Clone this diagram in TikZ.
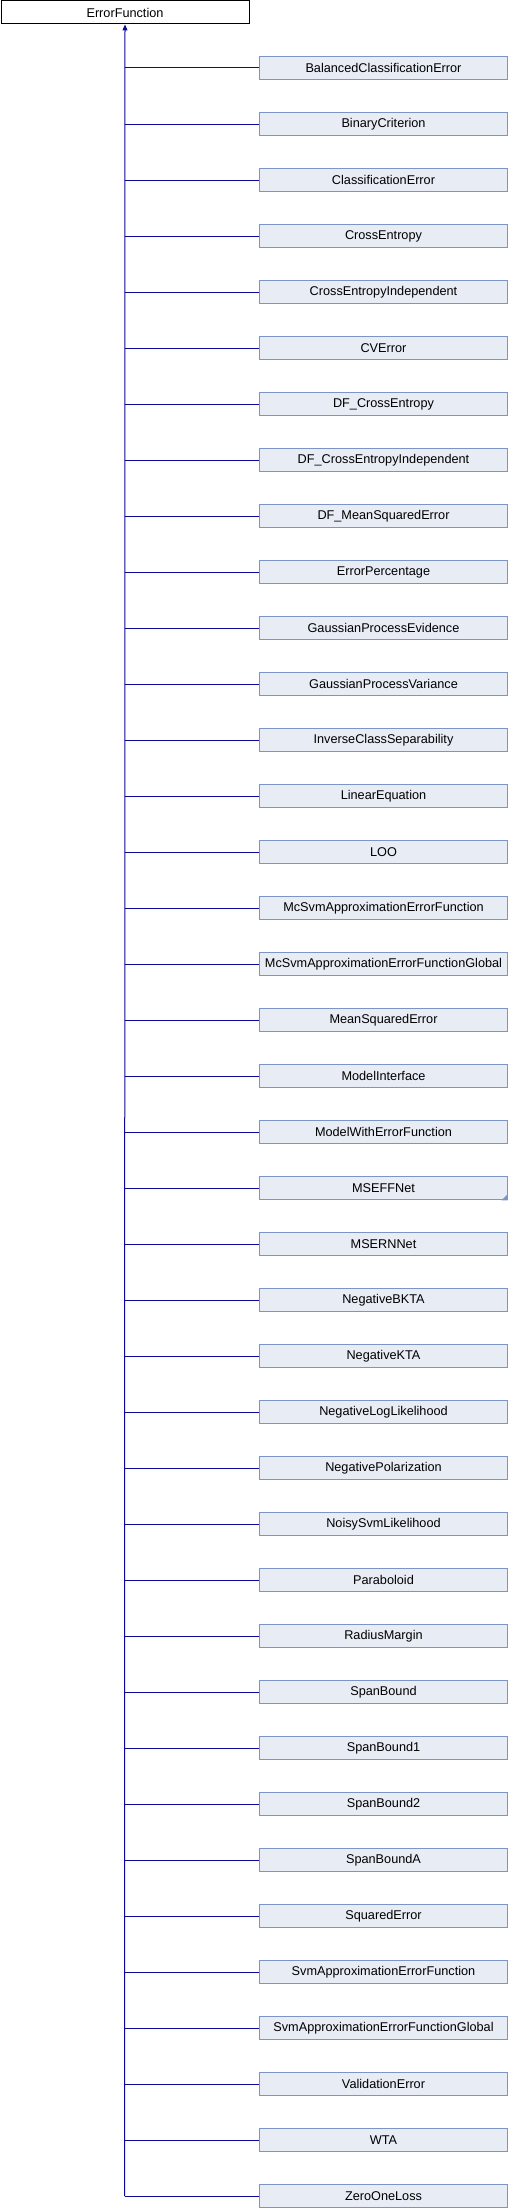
\documentclass[tikz,border=0pt]{standalone}
\usepackage{fontspec}
\setmainfont{Liberation Sans}
\usetikzlibrary{arrows.meta}
\definecolor{boxfill}{HTML}{E8ECF5}
\definecolor{boxline}{HTML}{7C95C6}
\definecolor{edgecol}{HTML}{0A0A96}
\begin{document}
\begin{tikzpicture}[x=1pt,y=-1pt,
  basebox/.style={draw=black,fill=white,line width=1pt,minimum width=248pt,minimum height=23pt,inner sep=0pt,anchor=north west,font=\fontsize{12.7}{14}\selectfont},
  childbox/.style={draw=boxline,fill=boxfill,line width=1pt,minimum width=248pt,minimum height=22.5pt,inner sep=0pt,anchor=west,font=\fontsize{12.7}{14}\selectfont},
  edge/.style={draw=edgecol,line width=1pt}]
\useasboundingbox (0,0) rectangle (508,2208);
\node[basebox] (parent) at (0.5,0.5) {ErrorFunction};
\foreach \name [count=\i] in {BalancedClassificationError,BinaryCriterion,ClassificationError,CrossEntropy,CrossEntropyIndependent,CVError,DF\_CrossEntropy,DF\_CrossEntropyIndependent,DF\_MeanSquaredError,ErrorPercentage,GaussianProcessEvidence,GaussianProcessVariance,InverseClassSeparability,LinearEquation,LOO,McSvmApproximationErrorFunction,McSvmApproximationErrorFunctionGlobal,MeanSquaredError,ModelInterface,ModelWithErrorFunction,MSEFFNet,MSERNNet,NegativeBKTA,NegativeKTA,NegativeLogLikelihood,NegativePolarization,NoisySvmLikelihood,Paraboloid,RadiusMargin,SpanBound,SpanBound1,SpanBound2,SpanBoundA,SquaredError,SvmApproximationErrorFunction,SvmApproximationErrorFunctionGlobal,ValidationError,WTA,ZeroOneLoss}{
  \pgfmathsetmacro{\yy}{68+(\i-1)*56}
  \node[childbox] (c\i) at (259,\yy) {\name};
  \coordinate (j\i) at (124.5,\yy);
  \draw[edge] (j\i) -- (c\i.west);
}
\draw[edge,-{Triangle[length=6pt,width=5pt]}] (j39) -- (parent.south);
\fill[boxline] ([xshift=-0.5pt,yshift=-0.5pt]c21.south east) -- ++(-6,0) -- ++(6,-6) -- cycle;
\end{tikzpicture}
\end{document}
